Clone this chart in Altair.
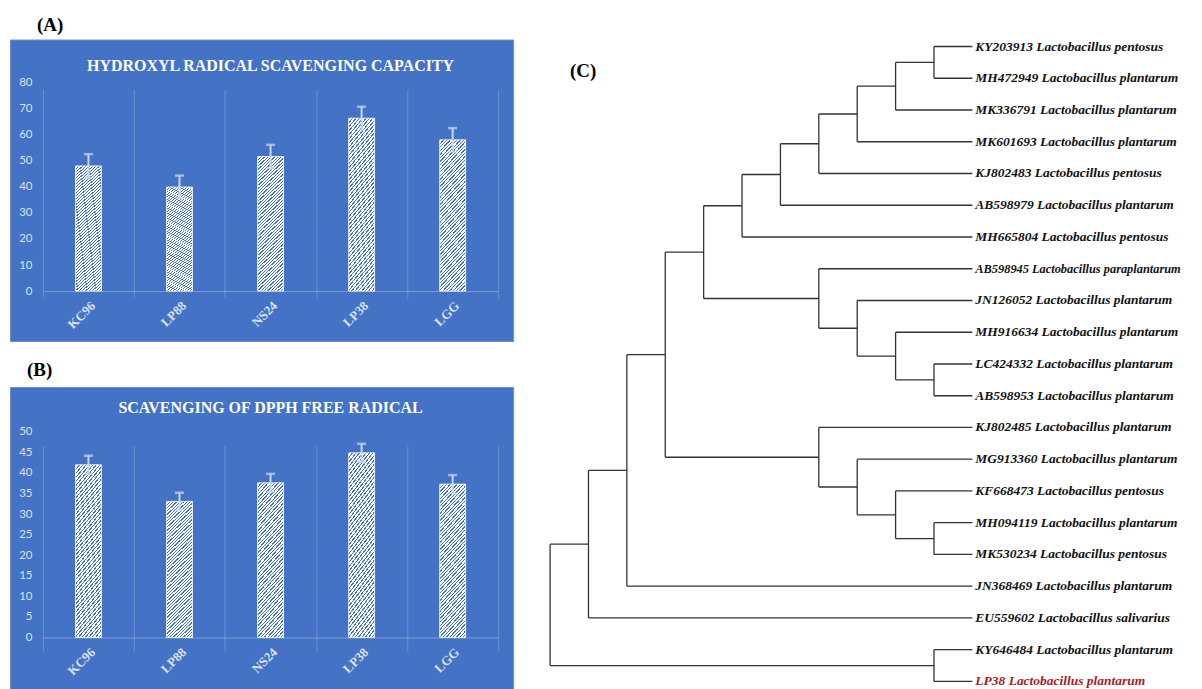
import altair as alt
import pandas as pd

# ---------------- data ----------------
CATEGORIES = ["KC96", "LP88", "NS24", "LP38", "LGG"]
HYDROXYL_MEAN = [48.0, 39.9, 51.6, 66.3, 58.0]
HYDROXYL_ERR = [4.5, 4.4, 4.5, 4.4, 4.5]
DPPH_MEAN = [42.0, 33.1, 37.6, 44.9, 37.3]
DPPH_ERR = [2.2, 2.1, 2.2, 2.2, 2.2]
HYDROXYL_TICKS = [0, 10, 20, 30, 40, 50, 60, 70, 80]
DPPH_TICKS = [0, 5, 10, 15, 20, 25, 30, 35, 40, 45, 50]
TITLE_A = "HYDROXYL RADICAL SCAVENGING CAPACITY"
TITLE_B = "SCAVENGING OF DPPH FREE RADICAL"

LEAF_LABELS = [
    "KY203913 Lactobacillus pentosus",
    "MH472949 Lactobacillus plantarum",
    "MK336791 Lactobacillus plantarum",
    "MK601693 Lactobacillus plantarum",
    "KJ802483 Lactobacillus pentosus",
    "AB598979 Lactobacillus plantarum",
    "MH665804 Lactobacillus pentosus",
    "AB598945 Lactobacillus paraplantarum",
    "JN126052 Lactobacillus plantarum",
    "MH916634 Lactobacillus plantarum",
    "LC424332 Lactobacillus plantarum",
    "AB598953 Lactobacillus plantarum",
    "KJ802485 Lactobacillus plantarum",
    "MG913360 Lactobacillus plantarum",
    "KF668473 Lactobacillus pentosus",
    "MH094119 Lactobacillus plantarum",
    "MK530234 Lactobacillus pentosus",
    "JN368469 Lactobacillus plantarum",
    "EU559602 Lactobacillus salivarius",
    "KY646484 Lactobacillus plantarum",
    "LP38 Lactobacillus plantarum",
]
HIGHLIGHT = "LP38 Lactobacillus plantarum"
LONGEST = "AB598945 Lactobacillus paraplantarum"

# tree topology, leaves given by their index in LEAF_LABELS
CLADE_1 = ((((((0, 1), 2), 3), 4), 5), 6)
CLADE_2 = (7, (8, (9, (10, 11))))
CLADE_3 = (12, (13, (14, (15, 16))))
TREE = (((((CLADE_1, CLADE_2), CLADE_3), 17), 18), (19, 20))

# ---------------- style ----------------
BLUE = "#4472c4"
LIGHT = "#d9e1f2"
ERRC = "#c9d6f0"
SERIF = "Liberation Serif"


def hatch(ratio=5.5, n=50, blue_frac=0.38):
    a = (1 + ratio) / (1 + ratio * ratio)
    b = ratio * a
    stops = []
    for k in range(n):
        s0, s1, s2 = k / n, (k + blue_frac) / n, (k + 1) / n
        stops += [
            alt.GradientStop(offset=s0, color=BLUE),
            alt.GradientStop(offset=s1, color=BLUE),
            alt.GradientStop(offset=s1, color="#ffffff"),
            alt.GradientStop(offset=s2, color="#ffffff"),
        ]
    return alt.LinearGradient(gradient="linear", stops=stops, x1=0, y1=0, x2=a, y2=b)


def bar_panel(mean, err, ticks, title_text, label, height, y_range, title_val,
              label_dx, label_offset):
    df = pd.DataFrame({
        "cat": CATEGORIES,
        "val": mean,
        "lo": [m - e for m, e in zip(mean, err)],
        "hi": [m + e for m, e in zip(mean, err)],
    })
    xs = alt.Scale(domain=CATEGORIES, range=[33, 489], paddingInner=0, paddingOuter=0)
    ys = alt.Scale(domain=[ticks[0], ticks[-1]], range=y_range, nice=False)
    x_axis = alt.Axis(
        title=None, labelAngle=-45, labelFont=SERIF, labelFontWeight="bold",
        labelFontSize=13, labelColor=LIGHT, labelPadding=8, ticks=False,
        tickBand="extent", grid=True, gridColor="#ffffff", gridOpacity=0.22,
        domainColor="#ffffff", domainOpacity=0.3, offset=-(height - y_range[0]),
    )
    y_axis = alt.Axis(
        title=None, values=ticks, tickCount=len(ticks), grid=False, domain=False,
        ticks=False, tickSize=0, labelPadding=11, labelFont="Lato", labelFontSize=11.5,
        labelColor=LIGHT, labelOverlap=False, offset=-33,
    )
    X = alt.X("cat:N", sort=CATEGORIES, scale=xs, axis=x_axis)
    base = alt.Chart(df)
    bars = base.mark_bar(width=26, fill=hatch(), stroke="#ffffff", strokeWidth=0.8).encode(
        x=X, y=alt.Y("val:Q", scale=ys, axis=y_axis),
    )
    err_line = base.mark_rule(color=ERRC, strokeWidth=2).encode(
        x=X, y=alt.Y("lo:Q", scale=ys, axis=y_axis), y2="hi:Q")
    cap_hi = base.mark_tick(color=ERRC, thickness=2.5, size=9).encode(
        x=X, y=alt.Y("hi:Q", scale=ys, axis=y_axis))
    cap_lo = base.mark_tick(color=ERRC, thickness=2, size=8).encode(
        x=X, y=alt.Y("lo:Q", scale=ys, axis=y_axis))
    ttl = alt.Chart(pd.DataFrame({"t": [title_text]})).mark_text(
        font=SERIF, fontWeight="bold", fontSize=16, color="#ffffff", baseline="middle"
    ).encode(x=alt.datum(CATEGORIES[2]), y=alt.datum(title_val), text="t:N")
    return alt.layer(bars, err_line, cap_hi, cap_lo, ttl).properties(
        width=504, height=height,
        view=alt.ViewBackground(fill=BLUE, stroke="#6d8ed0", strokeWidth=1),
        title=alt.TitleParams(label, anchor="start", dx=label_dx, offset=label_offset,
                              font=SERIF, fontWeight="bold", fontSize=19, color="#000000"),
    )


panel_a = bar_panel(HYDROXYL_MEAN, HYDROXYL_ERR, HYDROXYL_TICKS, TITLE_A, "(A)",
                    302, [252, 43], 86.2, 27, 5)
panel_b = bar_panel(DPPH_MEAN, DPPH_ERR, DPPH_TICKS, TITLE_B, "(B)",
                    310, [251, 45], 55.8, 17, 7)

# ---------------- tree layout from topology ----------------

def height_of(node):
    if isinstance(node, int):
        return 0
    return 1 + max(height_of(c) for c in node)


DEPTH = height_of(TREE)
segments = []


def place(node):
    if isinstance(node, int):
        return 0, float(node)
    kids = [place(c) for c in node]
    h = 1 + max(k[0] for k in kids)
    ys = [k[1] for k in kids]
    x = DEPTH - h
    segments.append({"x": x, "x2": x, "y": ys[0], "y2": ys[-1]})
    for kh, ky in kids:
        segments.append({"x": x, "x2": DEPTH - kh, "y": ky, "y2": ky})
    return h, (ys[0] + ys[-1]) / 2


place(TREE)
seg_df = pd.DataFrame(segments)
leaf_df = pd.DataFrame({
    "label": LEAF_LABELS,
    "x": [DEPTH] * len(LEAF_LABELS),
    "y": list(range(len(LEAF_LABELS))),
})

tx = alt.Scale(domain=[0, DEPTH], range=[9, 432], nice=False)
ty = alt.Scale(domain=[0, len(LEAF_LABELS) - 1], range=[7, 643], nice=False)

branches = alt.Chart(seg_df).mark_rule(color="#333333", strokeWidth=1.3).encode(
    x=alt.X("x:Q", scale=tx, axis=None), x2="x2:Q",
    y=alt.Y("y:Q", scale=ty, axis=None), y2="y2:Q",
)
names = alt.Chart(leaf_df).mark_text(
    align="left", baseline="middle", dx=3, font=SERIF, fontStyle="italic",
    fontWeight="bold", clip=True,
).encode(
    x=alt.X("x:Q", scale=tx, axis=None),
    y=alt.Y("y:Q", scale=ty, axis=None),
    text="label:N",
    size=alt.condition(alt.datum.label == LONGEST, alt.value(12.4), alt.value(13.5)),
    color=alt.condition(alt.datum.label == HIGHLIGHT, alt.value("#a31f1f"), alt.value("#111111")),
)
panel_c = alt.layer(branches, names).properties(
    width=654, height=650,
    title=alt.TitleParams("(C)", anchor="start", dx=29, dy=42, offset=0,
                          font=SERIF, fontWeight="bold", fontSize=19, color="#000000"),
)

left = alt.vconcat(panel_a, panel_b, spacing=46, bounds="flush")
chart = alt.hconcat(left, panel_c, spacing=27).properties(
    padding={"left": 1, "top": 6, "right": 0, "bottom": 0}
).configure_view(strokeWidth=0)

chart.save("out.html", embed_options={"renderer": "svg", "actions": False})
